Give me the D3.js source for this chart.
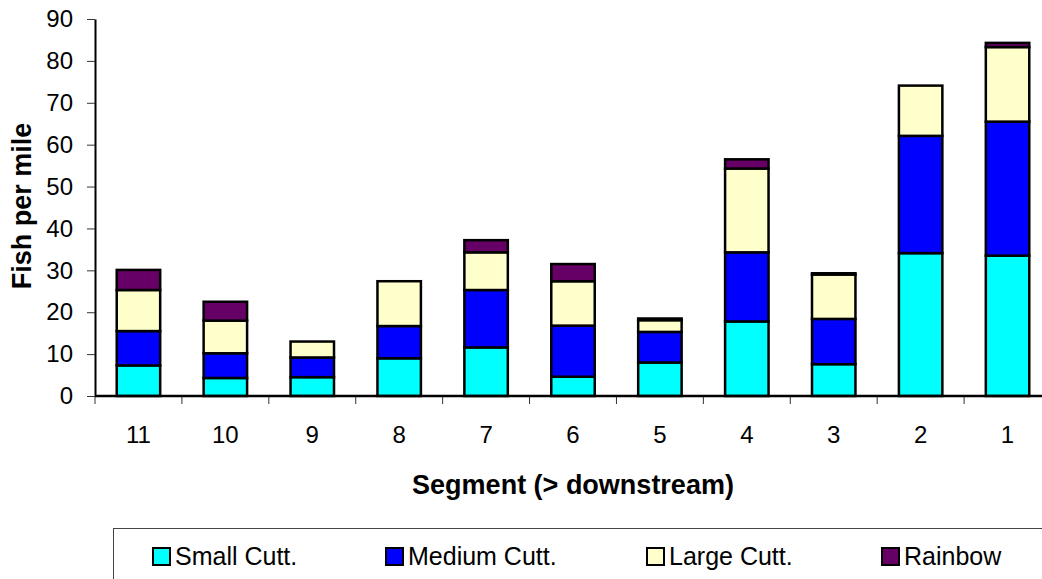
<!DOCTYPE html>
<html>
<head>
<meta charset="utf-8">
<script src="https://cdn.jsdelivr.net/npm/d3@7"></script>
<style>
  body { margin: 0; background: #fff; }
  svg { display: block; font-family: "Liberation Sans", Arial, sans-serif; }
</style>
</head>
<body>
<svg id="chart"></svg>
<script>
// segments, upstream -> downstream
const segments = ['11', '10', '9', '8', '7', '6', '5', '4', '3', '2', '1'];
const smallCutt = [7.3, 4.3, 4.5, 9.0, 11.6, 4.6, 8.0, 17.8, 7.6, 34.1, 33.5];
const mediumCutt = [8.2, 5.9, 4.7, 7.7, 13.7, 12.2, 7.3, 16.5, 10.8, 28.0, 32.0];
const largeCutt = [9.8, 7.8, 3.8, 10.7, 9.0, 10.6, 2.8, 20.0, 10.6, 12.0, 17.8];
const rainbow = [4.8, 4.5, 0, 0, 2.9, 4.1, 0.4, 2.2, 0.3, 0, 1.0];
const seriesNames = ['Small Cutt.', 'Medium Cutt.', 'Large Cutt.', 'Rainbow'];
const yTicks = [0, 10, 20, 30, 40, 50, 60, 70, 80, 90];

const colors = ['#00ffff', '#0000ff', '#ffffcc', '#660066'];
const keys = ['small', 'medium', 'large', 'rainbow'];

const rows = segments.map((s, i) => ({
  seg: s, small: smallCutt[i], medium: mediumCutt[i], large: largeCutt[i], rainbow: rainbow[i]
}));

const width = 1042;
const height = 579;
const plot = { left: 95, right: 1051, top: 19, bottom: 396 };

const svg = d3.select('#chart')
  .attr('width', width)
  .attr('height', height);

const x = d3.scaleBand()
  .domain(segments)
  .range([plot.left, plot.right])
  .paddingInner(0.5)
  .paddingOuter(0.25);

const y = d3.scaleLinear()
  .domain([0, 90])
  .range([plot.bottom, plot.top]);

const stacked = d3.stack().keys(keys)(rows);

// bars
svg.append('g')
  .selectAll('g')
  .data(stacked)
  .join('g')
  .attr('fill', (d, i) => colors[i])
  .selectAll('rect')
  .data(d => d.filter(p => p[1] - p[0] > 0))
  .join('rect')
  .attr('x', d => x(d.data.seg))
  .attr('y', d => y(d[1]))
  .attr('width', x.bandwidth())
  .attr('height', d => y(d[0]) - y(d[1]))
  .attr('stroke', '#000')
  .attr('stroke-width', 2.5);

// y axis
const yAxis = svg.append('g')
  .attr('transform', `translate(${plot.left},0)`)
  .call(d3.axisLeft(y).tickValues(yTicks).tickSize(8).tickPadding(14).tickSizeOuter(0));
yAxis.select('.domain').attr('stroke', '#000').attr('stroke-width', 2);
yAxis.selectAll('.tick line').attr('stroke', '#333');
yAxis.selectAll('.tick text')
  .attr('font-size', 24)
  .attr('font-family', '"Liberation Sans", Arial, sans-serif')
  .attr('fill', '#000');

// x axis: ticks sit between the categories
const step = x.step();
const bounds = d3.range(segments.length + 1).map(i => plot.left + i * step);
svg.append('g')
  .selectAll('line')
  .data(bounds)
  .join('line')
  .attr('x1', d => d).attr('x2', d => d)
  .attr('y1', plot.bottom).attr('y2', plot.bottom + 8)
  .attr('stroke', '#333');

svg.append('line')
  .attr('x1', plot.left).attr('x2', plot.right)
  .attr('y1', plot.bottom).attr('y2', plot.bottom)
  .attr('stroke', '#000')
  .attr('stroke-width', 2.5);

svg.append('g')
  .selectAll('text')
  .data(segments)
  .join('text')
  .attr('x', d => x(d) + x.bandwidth() / 2)
  .attr('y', 443)
  .attr('text-anchor', 'middle')
  .attr('font-size', 24)
  .text(d => d);

// axis titles
svg.append('text')
  .attr('x', 573)
  .attr('y', 494)
  .attr('text-anchor', 'middle')
  .attr('font-size', 27)
  .attr('font-weight', 'bold')
  .text('Segment (> downstream)');

svg.append('text')
  .attr('transform', 'translate(31,206) rotate(-90)')
  .attr('text-anchor', 'middle')
  .attr('font-size', 27)
  .attr('font-weight', 'bold')
  .text('Fish per mile');

// legend
svg.append('rect')
  .attr('x', 113.5).attr('y', 528.5)
  .attr('width', 1000).attr('height', 100)
  .attr('fill', '#fff')
  .attr('stroke', '#444');

const legendX = [153, 386, 647, 882];
const item = svg.append('g')
  .selectAll('g')
  .data(seriesNames)
  .join('g')
  .attr('transform', (d, i) => `translate(${legendX[i]},548)`);

item.append('rect')
  .attr('width', 17).attr('height', 17)
  .attr('fill', (d, i) => colors[i])
  .attr('stroke', '#000')
  .attr('stroke-width', 2);

item.append('text')
  .attr('x', 22)
  .attr('y', 17)
  .attr('font-size', 25)
  .text(d => d);
</script>
</body>
</html>
